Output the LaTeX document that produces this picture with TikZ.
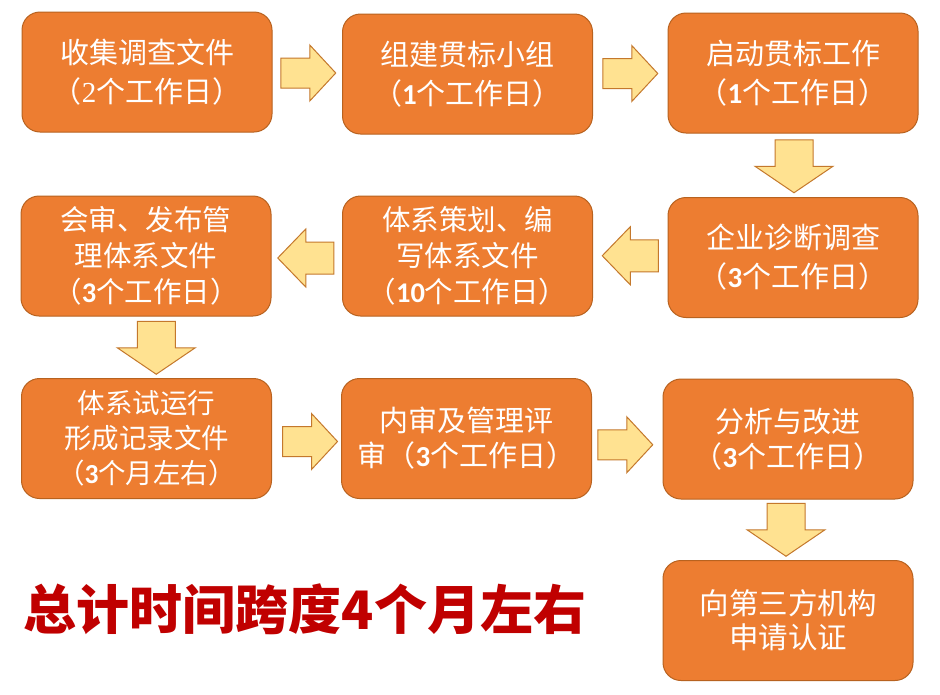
\documentclass[tikz,border=0pt]{standalone}
\usepackage{fontspec}
\setmainfont{Noto Sans CJK SC}
\newfontfamily\numfont{Carlito}
\newfontfamily\serifnum{Liberation Serif}
\usetikzlibrary{calc}
\definecolor{boxfill}{HTML}{ED7D31}
\definecolor{boxline}{HTML}{B8621F}
\definecolor{arrfill}{HTML}{FFE291}
\definecolor{arrline}{HTML}{C4782C}
\definecolor{titlered}{HTML}{C00000}
\newcommand{\bn}[1]{{\numfont\bfseries #1}}
\tikzset{
  stepbox/.style={rectangle, rounded corners=18pt, minimum width=250pt, minimum height=120pt,
    fill=boxfill, draw=boxline, line width=1pt, text=white, align=center, inner sep=0pt,
    font=\fontsize{29}{39}\selectfont},
  blockarrow/.style={fill=arrfill, draw=arrline, line width=1pt, line join=miter}
}
\newcommand{\RArrow}[1]{\draw[blockarrow, shift={(#1)}] (-27.5,-15) -- (1.5,-15) -- (1.5,-28) -- (27.5,0) -- (1.5,28) -- (1.5,15) -- (-27.5,15) -- cycle;}
\newcommand{\LArrow}[1]{\draw[blockarrow, shift={(#1)}, xscale=-1] (-28,-16) -- (0,-16) -- (0,-29) -- (28,0) -- (0,29) -- (0,16) -- (-28,16) -- cycle;}
\newcommand{\DArrow}[1]{\draw[blockarrow, shift={(#1)}] (-19,-26.5) -- (19,-26.5) -- (19,0) -- (39,0) -- (0,26.5) -- (-39,0) -- (-19,0) -- cycle;}
\begin{document}
\begin{tikzpicture}[x=1pt,y=-1pt]
\useasboundingbox[fill=white] (0,0) rectangle (940,694);
\node[stepbox] (b1) at (147,72) {收集调查文件\\（{\serifnum 2}个工作日）};
\node[stepbox] (b2) at (467.5,74) {组建贯标小组\\（\bn{1}个工作日）};
\node[stepbox] (b3) at (793,73) {启动贯标工作\\（\bn{1}个工作日）};
\node[stepbox, font=\fontsize{28.5}{36}\selectfont] (b4) at (146,256) {会审、发布管\\理体系文件\\（\bn{3}个工作日）};
\node[stepbox, font=\fontsize{28.5}{36}\selectfont] (b5) at (467.5,256) {体系策划、编\\写体系文件\\（\bn{10}个工作日）};
\node[stepbox] (b6) at (793,257.5) {企业诊断调查\\（\bn{3}个工作日）};
\node[stepbox, font=\fontsize{27.5}{35}\selectfont] (b7) at (146.5,438.5) {体系试运行\\形成记录文件\\（\bn{3}个月左右）};
\node[stepbox, font=\fontsize{29}{35}\selectfont] (b8) at (466.5,438.5) {内审及管理评\\审（\bn{3}个工作日）};
\node[stepbox, font=\fontsize{29}{35}\selectfont] (b9) at (788,439) {分析与改进\\（\bn{3}个工作日）};
\node[stepbox, font=\fontsize{29.5}{34}\selectfont] (b10) at (788,620.5) {向第三方机构\\申请认证};
\coordinate (a12) at ($(b1.east)!0.5!(b2.west)+(1,0)$);
\coordinate (a23) at ($(b2.east)!0.5!(b3.west)$);
\coordinate (a36) at ($(b3.south)!0.5!(b6.north)+(1,1)$);
\coordinate (a65) at ($(b6.west)!0.5!(b5.east)+(0,-1)$);
\coordinate (a54) at ($(b5.west)!0.5!(b4.east)+(-1,2)$);
\coordinate (a47) at ($(b4.south)!0.5!(b7.north)+(10,0.5)$);
\coordinate (a78) at ($(b7.east)!0.5!(b8.west)+(3.5,3)$);
\coordinate (a89) at ($(b8.east)!0.5!(b9.west)+(-2,6)$);
\coordinate (a910) at ($(b9.south)!0.5!(b10.north)+(-2,0)$);
\RArrow{a12}
\RArrow{a23}
\DArrow{a36}
\LArrow{a65}
\LArrow{a54}
\DArrow{a47}
\RArrow{a78}
\RArrow{a89}
\DArrow{a910}
\node[text=titlered, font=\fontsize{53}{60}\selectfont\bfseries, inner sep=0pt] (title) at (305,609) {总计时间跨度4个月左右};
\end{tikzpicture}
\end{document}
